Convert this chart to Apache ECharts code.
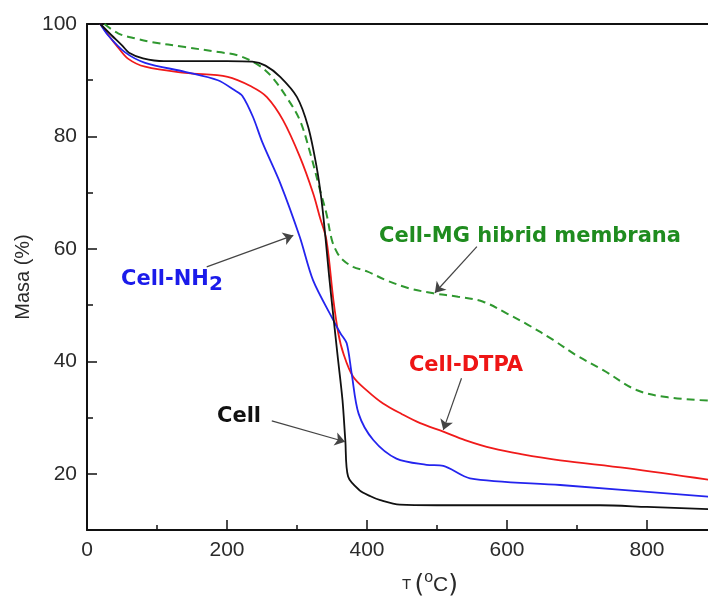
<!DOCTYPE html>
<html>
<head>
<meta charset="utf-8">
<script src="https://cdn.jsdelivr.net/npm/echarts@6/dist/echarts.min.js"></script>
<style>
html,body{margin:0;padding:0;background:#fff;}
#c{width:708px;height:599px;}
</style>
</head>
<body>
<div id="c"></div>
<script>
// Temperature (°C) / mass (%) pairs
const cellData = [[19,100],[35,98],[50,96.2],[60,94.9],[80,93.9],[110,93.4],[150,93.4],[200,93.4],[236,93.3],[255,92.6],[276,90.6],[300,87.0],[316,81.7],[328,74.6],[335,68.7],[341,61.6],[346,55],[351,49.1],[358,41],[365,33.1],[369,26],[373,19.5],[389,17.1],[405,16.0],[419,15.3],[447,14.5],[500,14.4],[600,14.4],[733,14.4],[800,14.1],[890,13.7]];
const nh2Data = [[19,100],[30,98],[54,95.0],[83,93.1],[140,91.5],[187,90],[211,88.2],[222,87.2],[237,83.5],[251,78.8],[276,71.7],[304,62.1],[323,54.4],[352,47.3],[362,45],[371,43.2],[378,37.9],[388,30.7],[409,26.0],[442,22.7],[485,21.6],[509,21.4],[547,19.2],[676,18.0],[890,15.9]];
const dtpaData = [[19,100],[35,97.3],[44,95.9],[59,93.8],[83,92.4],[140,91.3],[201,90.6],[236,88.8],[257,87.0],[280,82.9],[304,76.4],[323,69.9],[333,65.5],[342,61.6],[352,50.9],[359,45],[366,41.5],[380,37.3],[400,34.8],[423,32.5],[450,30.6],[476,29.0],[509,27.5],[540,26.0],[580,24.5],[620,23.5],[676,22.4],[771,21.0],[890,18.9]];
const mgData = [[25,100],[45,98.3],[70,97.4],[92,96.8],[140,95.9],[188,95.0],[216,94.4],[245,92.7],[264,90.6],[285,87.0],[304,82.9],[319,77.0],[333,70.4],[342,66.3],[350,61.5],[358,59.2],[366,58.0],[380,56.8],[400,56.0],[428,54.4],[460,53.0],[495,52.1],[530,51.5],[566,50.6],[600,48.5],[630,46.5],[666,43.8],[700,41.0],[738,38.4],[785,34.9],[830,33.6],[890,33.0]];

const xMin = 0, xMax = 900;
const yMin = 10, yMax = 100;
const xLabelTicks = [0,200,400,600,800];
const yLabelTicks = [20,40,60,80,100];

// annotation arrows: [from, to] in data coords
const arrowMG   = [[557,60.4],[497,52.2]];
const arrowNH2  = [[171,56.8],[294.7,62.4]];
const arrowDTPA = [[535,37.0],[509,27.8]];
const arrowCell = [[264,29.4],[368.6,25.7]];

const chart = echarts.init(document.getElementById('c'), null, {renderer:'canvas'});
const axisCol = '#111';
const lblCol = '#2a2a2a';
function arrow(a){ return [{coord:a[0], symbol:'none'},{coord:a[1], symbol:'arrow'}]; }

chart.setOption({
  animation:false,
  backgroundColor:'#fff',
  grid:[
    {left:87, top:24, width:630, height:506, containLabel:false, outerBoundsMode:'none'},
    {left:87, top:24, width:630, height:450, containLabel:false, outerBoundsMode:'none'}
  ],
  xAxis:[
    {type:'value', gridIndex:0, position:'bottom', min:xMin, max:xMax, interval:100,
     axisLine:{show:true, lineStyle:{color:axisCol, width:2}},
     axisTick:{show:true, inside:true, length:5, lineStyle:{color:axisCol, width:1.5}},
     axisLabel:{show:false}, splitLine:{show:false},
     name:'{t|T} {p|(}{s|o}{c|C}{p|)}', nameLocation:'middle', nameGap:40,
     nameTextStyle:{padding:[0,0,0,56], rich:{
        t:{fontSize:15, fontFamily:'Liberation Sans', color:lblCol},
        p:{fontSize:25, fontFamily:'DejaVu Sans', color:lblCol},
        s:{fontSize:16, fontFamily:'Liberation Sans', color:lblCol, padding:[0,0,14,0]},
        c:{fontSize:21, fontFamily:'Liberation Sans', color:lblCol}
     }}},
    {type:'value', gridIndex:0, position:'top', min:xMin, max:xMax,
     axisLine:{show:true, lineStyle:{color:axisCol, width:2}},
     axisTick:{show:false}, axisLabel:{show:false}, splitLine:{show:false}},
    {type:'value', gridIndex:1, position:'bottom', offset:56, min:xMin, max:xMax, interval:200,
     axisLine:{show:false},
     axisTick:{show:true, inside:true, length:10, lineStyle:{color:axisCol, width:1.5}},
     axisLabel:{show:true, margin:10, fontSize:21, fontFamily:'Liberation Sans', color:lblCol,
       formatter:v=> xLabelTicks.indexOf(v)>=0 ? String(v) : ''},
     splitLine:{show:false}}
  ],
  yAxis:[
    {type:'value', gridIndex:0, min:yMin, max:yMax, interval:10,
     axisLine:{show:true, lineStyle:{color:axisCol, width:2}},
     axisTick:{show:true, inside:true, length:6, lineStyle:{color:axisCol, width:1.5}},
     axisLabel:{show:false}, splitLine:{show:false},
     name:'Masa (%)', nameLocation:'middle', nameGap:54, nameRotate:90,
     nameTextStyle:{fontSize:20, fontFamily:'Liberation Sans', color:lblCol}},
    {type:'value', gridIndex:1, min:20, max:yMax, interval:20,
     axisLine:{show:false},
     axisTick:{show:true, inside:true, length:10, lineStyle:{color:axisCol, width:1.5}},
     axisLabel:{show:true, margin:10, fontSize:21, fontFamily:'Liberation Sans', color:lblCol,
       formatter:v=> yLabelTicks.indexOf(v)>=0 ? String(v) : ''},
     splitLine:{show:false}}
  ],
  series:[
    {name:'Cell-MG hibrid membrana', type:'line', xAxisIndex:0, yAxisIndex:0, data:mgData, showSymbol:false,
     smooth:0.35, lineStyle:{color:'#2f982f', width:2, type:[8,5]}},
    {name:'Cell-DTPA', type:'line', xAxisIndex:0, yAxisIndex:0, data:dtpaData, showSymbol:false,
     smooth:0.35, lineStyle:{color:'#f01a1a', width:1.8}},
    {name:'Cell-NH2', type:'line', xAxisIndex:0, yAxisIndex:0, data:nh2Data, showSymbol:false,
     smooth:0.3, lineStyle:{color:'#2424ee', width:1.8}},
    {name:'Cell', type:'line', xAxisIndex:0, yAxisIndex:0, data:cellData, showSymbol:false,
     smooth:0.3, lineStyle:{color:'#111', width:1.8},
     markLine:{silent:true, symbolSize:10, label:{show:false},
       lineStyle:{color:'#444', width:1.2, type:'solid'},
       data:[arrow(arrowMG), arrow(arrowNH2), arrow(arrowDTPA), arrow(arrowCell)]}}
  ],
  graphic:[
    {type:'text', x:530, y:237, style:{text:'Cell-MG hibrid membrana', fill:'#1f8c1f',
      font:'bold 21px "DejaVu Sans"', align:'center', verticalAlign:'middle'}},
    {type:'text', x:121, y:280, style:{text:'{a|Cell-NH}{b|2}', fill:'#1b1bea',
      font:'bold 21px "DejaVu Sans"', align:'left', verticalAlign:'middle',
      rich:{a:{font:'bold 21px "DejaVu Sans"', fill:'#1b1bea'},
            b:{font:'bold 20px "DejaVu Sans"', fill:'#1b1bea', padding:[10,0,0,0], verticalAlign:'top'}}}},
    {type:'text', x:466, y:366, style:{text:'Cell-DTPA', fill:'#ee1515',
      font:'bold 21px "DejaVu Sans"', align:'center', verticalAlign:'middle'}},
    {type:'text', x:239, y:417, style:{text:'Cell', fill:'#111',
      font:'bold 21px "DejaVu Sans"', align:'center', verticalAlign:'middle'}}
  ]
});
</script>
</body>
</html>
